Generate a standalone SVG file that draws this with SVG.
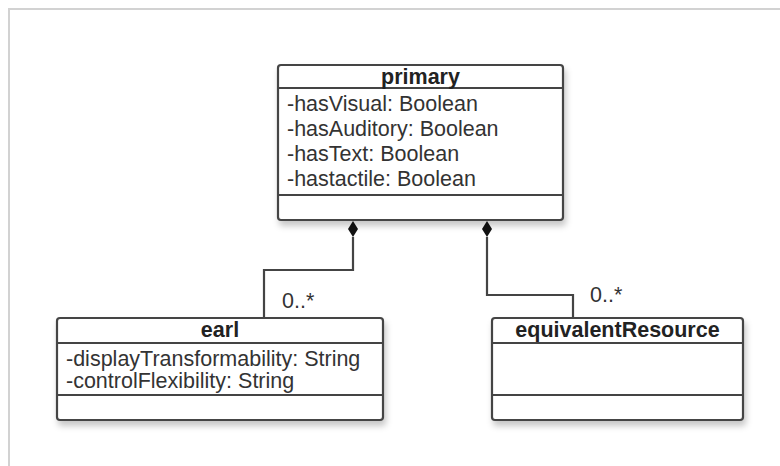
<svg xmlns="http://www.w3.org/2000/svg" width="780" height="466" viewBox="0 0 780 466">
<defs>
<filter id="sh" x="-10%" y="-10%" width="125%" height="130%">
<feDropShadow dx="2" dy="5" stdDeviation="3" flood-color="#000" flood-opacity="0.22"/>
</filter>
<marker id="dia" viewBox="0 0 18 12" refX="1" refY="6" markerWidth="18" markerHeight="12" orient="auto" markerUnits="userSpaceOnUse">
<path d="M1,6 L9,1 L17,6 L9,11 Z" fill="#111"/>
</marker>
</defs>
<style>
.box{fill:#fff;stroke:#444;stroke-width:2.2;filter:url(#sh)}
.sep{stroke:#444;stroke-width:2}
.t{font-family:"Liberation Sans",Arial,sans-serif;font-size:21.5px;fill:#333}
.h{font-family:"Liberation Sans",Arial,sans-serif;font-size:21.5px;font-weight:bold;fill:#222;text-anchor:middle}
.c{fill:none;stroke:#444;stroke-width:2.2}
</style>
<rect x="0" y="0" width="780" height="466" fill="#fff"/>
<rect x="9" y="9" width="800" height="500" fill="none" stroke="#d2d2d2" stroke-width="2"/>
<g id="connectors">
<path class="c" d="M264,318 V270 H353 V237" marker-end="url(#dia)"/>
<path class="c" d="M573,318 V295 H487 V237" marker-end="url(#dia)"/>
<text class="t" x="282" y="308">0..*</text>
<text class="t" x="590" y="302">0..*</text>
</g>
<g id="primary">
<rect class="box" x="278" y="65" width="285" height="155" rx="3"/>
<line class="sep" x1="278" y1="88" x2="563" y2="88"/>
<line class="sep" x1="278" y1="195" x2="563" y2="195"/>
<text class="h" x="420.5" y="84">primary</text>
<text class="t" x="287" y="111">-hasVisual: Boolean</text>
<text class="t" x="287" y="136">-hasAuditory: Boolean</text>
<text class="t" x="287" y="161">-hasText: Boolean</text>
<text class="t" x="287" y="186">-hastactile: Boolean</text>
</g>
<g id="earl">
<rect class="box" x="57" y="318" width="326" height="102" rx="3"/>
<line class="sep" x1="57" y1="343" x2="383" y2="343"/>
<line class="sep" x1="57" y1="395" x2="383" y2="395"/>
<text class="h" x="220" y="337">earl</text>
<text class="t" x="66" y="366">-displayTransformability: String</text>
<text class="t" x="66" y="388">-controlFlexibility: String</text>
</g>
<g id="equivalentResource">
<rect class="box" x="492" y="318" width="251" height="102" rx="3"/>
<line class="sep" x1="492" y1="343" x2="743" y2="343"/>
<line class="sep" x1="492" y1="395" x2="743" y2="395"/>
<text class="h" x="617.5" y="337">equivalentResource</text>
</g>
</svg>
